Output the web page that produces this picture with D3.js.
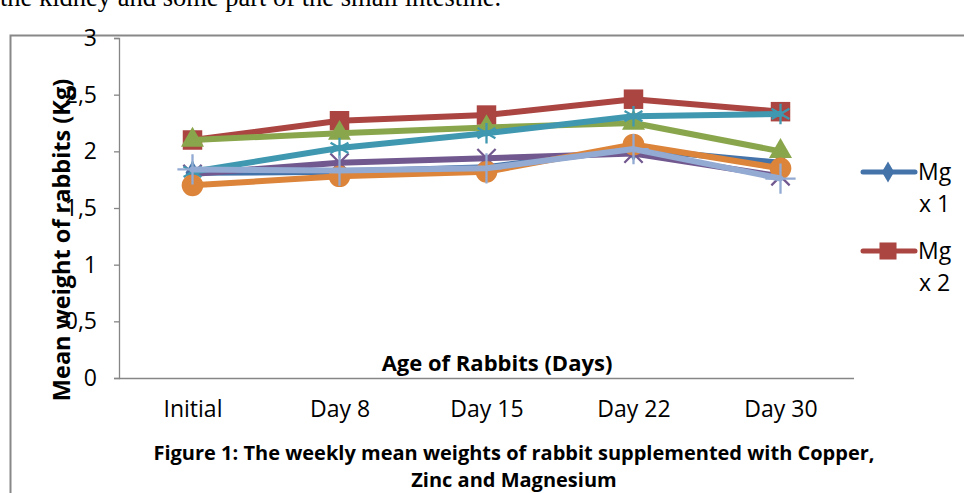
<!DOCTYPE html>
<html>
<head>
<meta charset="utf-8">
<script src="https://cdn.jsdelivr.net/npm/d3@7"></script>
<style>
  html, body { margin: 0; padding: 0; background: #fff; }
  svg { display: block; }
</style>
</head>
<body>
<div id="chart"></div>
<script>
// 数据
const categories = ["Initial", "Day 8", "Day 15", "Day 22", "Day 30"];
const seriesNames = ["Mg x 1", "Mg x 2", "Cu x 1", "Cu x 2", "Zn x 1", "Zn x 2", "Control"];
const mgX1 = [1.81, 1.82, 1.86, 2.02, 1.90];
const mgX2 = [2.10, 2.27, 2.32, 2.46, 2.35];
const cuX1 = [2.10, 2.16, 2.21, 2.25, 2.00];
const cuX2 = [1.80, 1.90, 1.94, 1.98, 1.78];
const znX1 = [1.82, 2.03, 2.16, 2.31, 2.33];
const znX2 = [1.70, 1.78, 1.82, 2.06, 1.85];
const control = [1.84, 1.83, 1.85, 2.02, 1.76];
const yTicks = [0, 0.5, 1, 1.5, 2, 2.5, 3];
const legendShown = 2; // 图例被截断，只显示前两个

const colors = ["#4473AA", "#AA4541", "#8AA64C", "#71588F", "#3F98B0", "#DC843A", "#93AAD2"];
const markers = ["diamond", "square", "triangle", "times", "asterisk", "circle", "plus"];
const seriesValues = [mgX1, mgX2, cuX1, cuX2, znX1, znX2, control];

const W = 964, H = 493;
const svg = d3.select("#chart").append("svg")
    .attr("width", W)
    .attr("height", H);

// 上方正文的残留文字
svg.append("text")
    .attr("x", 0)
    .attr("y", 6)
    .attr("font-family", "Liberation Serif, Times New Roman, serif")
    .attr("font-size", 26.5)
    .attr("fill", "#000")
    .text("the kidney and some part of the small intestine.");

// 图框
svg.append("path")
    .attr("d", `M10.5,${H} V35.5 H${W}`)
    .attr("fill", "none")
    .attr("stroke", "#888")
    .attr("stroke-width", 2);

const plot = { left: 119, right: 854, top: 38, bottom: 378 };

const x = d3.scalePoint()
    .domain(categories)
    .range([plot.left, plot.right])
    .padding(0.5);

const y = d3.scaleLinear()
    .domain([0, 3])
    .range([plot.bottom, plot.top]);

const labelFont = "'Open Sans', sans-serif";

// Y 轴
const yAxis = svg.append("g")
    .attr("transform", `translate(${plot.left},0)`)
    .call(d3.axisLeft(y)
        .tickValues(yTicks)
        .tickSize(5)
        .tickPadding(17)
        .tickFormat(d => String(d).replace(".", ",")));
yAxis.select(".domain").attr("stroke", "#868686").attr("stroke-width", 1.3);
yAxis.selectAll(".tick line").attr("stroke", "#868686").attr("stroke-width", 1.3);
yAxis.selectAll(".tick text")
    .attr("font-family", labelFont)
    .attr("font-size", 23)
    .attr("fill", "#000");

// X 轴
const xAxis = svg.append("g")
    .attr("transform", `translate(0,${plot.bottom})`)
    .call(d3.axisBottom(x).tickSize(0).tickPadding(23));
xAxis.select(".domain")
    .attr("d", `M${plot.left},0.5H${plot.right}`)
    .attr("stroke", "#868686")
    .attr("stroke-width", 1.3);
xAxis.selectAll(".tick text")
    .attr("font-family", labelFont)
    .attr("font-size", 23)
    .attr("fill", "#000");

// 轴标题
svg.append("text")
    .attr("x", 497)
    .attr("y", 371)
    .attr("text-anchor", "middle")
    .attr("font-family", labelFont)
    .attr("font-weight", "bold")
    .attr("font-size", 22)
    .text("Age of Rabbits (Days)");

svg.append("text")
    .attr("transform", "translate(70,240) rotate(-90)")
    .attr("text-anchor", "middle")
    .attr("font-family", labelFont)
    .attr("font-weight", "bold")
    .attr("font-size", 23.5)
    .text("Mean weight of rabbits (Kg)");

// 图注
const caption = ["Figure 1: The weekly mean weights of rabbit supplemented with Copper,", "Zinc and Magnesium"];
svg.append("g").selectAll("text")
    .data(caption)
    .join("text")
    .attr("x", 514)
    .attr("y", (d, i) => 460 + i * 27)
    .attr("text-anchor", "middle")
    .attr("font-family", labelFont)
    .attr("font-weight", "bold")
    .attr("font-size", 20)
    .text(d => d);

// 标记符号
function markerPath(type) {
    const s = {
        diamond: [d3.symbolDiamond, 170],
        square: [d3.symbolSquare, 380],
        triangle: [d3.symbolTriangle, 230],
        times: [d3.symbolTimes, 220],
        asterisk: [d3.symbolAsterisk, 300],
        circle: [d3.symbolCircle, 370],
        plus: [d3.symbolPlus, 300]
    }[type];
    return d3.symbol(s[0], s[1])();
}
const strokeOnly = new Set(["times", "asterisk", "plus"]);

const line = d3.line()
    .x((d, i) => x(categories[i]))
    .y(d => y(d));

const series = seriesNames.map((name, i) => ({
    name, values: seriesValues[i], color: colors[i], marker: markers[i]
}));

const gSeries = svg.append("g")
    .selectAll("g")
    .data(series)
    .join("g");

gSeries.append("path")
    .attr("d", d => line(d.values))
    .attr("fill", "none")
    .attr("stroke", d => d.color)
    .attr("stroke-width", 6)
    .attr("stroke-linejoin", "round")
    .attr("stroke-linecap", "round");

gSeries.each(function(d) {
    d3.select(this).selectAll(".mark")
        .data(d.values)
        .join("path")
        .attr("class", "mark")
        .attr("transform", (v, i) => `translate(${x(categories[i])},${y(v)})`)
        .attr("d", markerPath(d.marker))
        .attr("fill", strokeOnly.has(d.marker) ? "none" : d.color)
        .attr("stroke", d.color)
        .attr("stroke-width", strokeOnly.has(d.marker) ? 2.3 : 0);
});

// 图例 (截断)
const legend = svg.append("g")
    .selectAll("g")
    .data(series.slice(0, legendShown))
    .join("g")
    .attr("transform", (d, i) => `translate(0,${172 + i * 79})`);

legend.append("line")
    .attr("x1", 863).attr("x2", 915)
    .attr("y1", 0).attr("y2", 0)
    .attr("stroke", d => d.color)
    .attr("stroke-width", 5)
    .attr("stroke-linecap", "round");

legend.append("path")
    .attr("transform", "translate(888,0)")
    .attr("d", d => d.marker === "diamond" ? d3.symbol(d3.symbolDiamond, 130)() : d3.symbol(d3.symbolSquare, 290)())
    .attr("fill", d => d.color);

legend.append("text")
    .attr("x", 918)
    .attr("y", 8)
    .attr("font-family", labelFont)
    .attr("font-size", 23)
    .text(d => d.name.split(" ")[0]);

legend.append("text")
    .attr("x", 919)
    .attr("y", 40)
    .attr("font-family", labelFont)
    .attr("font-size", 23)
    .text(d => d.name.split(" ").slice(1).join(" "));
</script>
</body>
</html>
